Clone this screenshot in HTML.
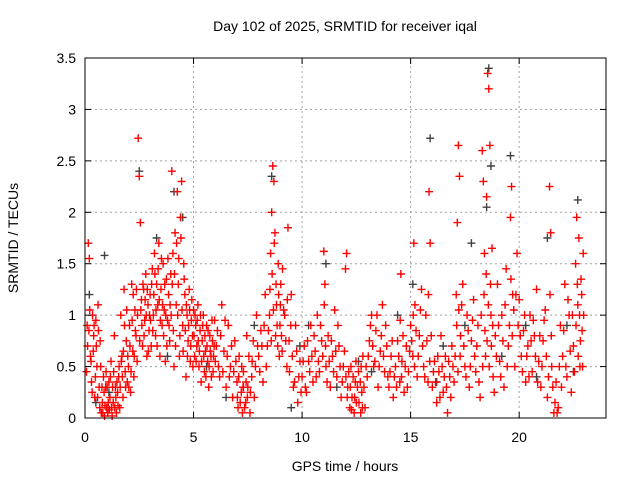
<!DOCTYPE html>
<html><head><meta charset="utf-8"><style>
html,body{margin:0;padding:0;background:#fff;}
svg{display:block;font-family:"Liberation Sans",sans-serif;}
</style></head><body>
<svg id="chart" width="640" height="480">
<rect width="640" height="480" fill="#fff"/>
<text x="345" y="31" font-size="14" text-anchor="middle">Day 102 of 2025, SRMTID for receiver iqal</text>
<g id="grid"></g><g id="pts"></g><g id="axes"></g>
<text x="345" y="471" font-size="14" text-anchor="middle">GPS time / hours</text>
<text transform="translate(18,238) rotate(-90)" font-size="14" text-anchor="middle">SRMTID / TECUs</text>
</svg>
<script>
const xTicks=[0,5,10,15,20];
const yTicks=[0,0.5,1,1.5,2,2.5,3,3.5];
const yTickLabels=["0","0.5","1","1.5","2","2.5","3","3.5"];
const redPoints=[
[0.1,0.9],[0.15,1.7],[0.2,1.55],[0.25,0.6],[0.3,0.35],[0.35,1.0],[0.4,0.8],[0.45,0.2],[0.5,0.95],[0.55,0.5],[0.6,1.1],[0.65,0.3],[0.7,0.75],[0.75,0.05],[0.8,0.15],[0.85,0.4],[0.9,0.02],[0.95,0.3],
[1.0,0.1],[1.05,0.05],[1.1,0.35],[1.15,0.2],[1.2,0.55],[1.25,0.02],[1.3,0.15],[1.35,0.8],[1.4,0.3],[1.45,0.05],[1.5,0.25],[1.55,0.4],[1.6,0.1],[1.65,1.0],[1.7,0.6],[1.75,0.2],[1.8,1.25],[1.85,0.45],[1.9,0.75],[1.95,0.35],
[2.0,0.5],[2.05,0.9],[2.1,0.25],[2.15,1.3],[2.2,0.65],[2.25,0.4],[2.3,1.05],[2.35,0.8],[2.4,0.55],[2.45,2.72],[2.5,2.35],[2.55,1.9],[2.6,1.15],[2.65,0.7],[2.7,1.25],[2.75,0.95],[2.8,1.4],[2.85,0.6],[2.9,1.1],[2.95,0.85],
[3.0,1.2],[3.05,0.7],[3.1,1.45],[3.15,1.0],[3.2,1.6],[3.25,0.8],[3.3,1.3],[3.35,1.1],[3.4,1.7],[3.45,0.6],[3.5,1.25],[3.55,0.9],[3.6,1.5],[3.65,1.05],[3.7,0.55],[3.75,1.35],[3.8,0.95],[3.85,1.2],[3.9,0.75],[3.95,1.4],
[4.0,2.4],[4.05,1.6],[4.1,0.5],[4.15,1.8],[4.2,1.1],[4.25,2.2],[4.3,1.3],[4.35,0.6],[4.4,1.95],[4.45,2.3],[4.5,0.9],[4.55,1.5],[4.6,1.2],[4.65,0.4],[4.7,1.0],[4.75,0.75],[4.8,1.25],[4.85,0.55],[4.9,0.95],[4.95,0.8],
[5.0,1.05],[5.05,0.6],[5.1,0.9],[5.15,0.7],[5.2,1.1],[5.25,0.5],[5.3,0.85],[5.35,0.35],[5.4,0.75],[5.45,1.0],[5.5,0.45],[5.55,0.65],[5.6,0.9],[5.65,0.55],[5.7,0.3],[5.75,0.8],[5.8,0.6],[5.85,0.95],[5.9,0.45],[5.95,0.7],
[6.0,0.55],[6.1,0.85],[6.2,0.4],[6.3,1.1],[6.4,0.65],[6.5,0.3],[6.6,0.9],[6.7,0.5],[6.8,0.2],[6.9,0.75],[7.0,0.35],[7.05,0.1],[7.1,0.6],[7.2,0.25],[7.25,0.05],[7.3,0.45],[7.4,0.15],[7.45,0.8],[7.5,0.3],[7.6,0.05],[7.7,0.55],[7.8,0.2],[7.9,1.0],
[8.0,0.6],[8.1,0.85],[8.2,0.35],[8.3,1.2],[8.4,0.7],[8.5,1.0],[8.55,1.6],[8.6,2.0],[8.65,2.45],[8.7,2.3],[8.75,1.8],[8.8,1.3],[8.85,0.9],[8.9,1.5],[8.95,0.6],[9.0,1.1],[9.05,0.8],[9.1,1.45],[9.2,1.0],[9.3,0.5],[9.35,1.85],[9.4,0.75],[9.5,1.2],[9.6,0.3],[9.7,0.9],[9.8,0.15],[9.9,0.55],
[10.0,0.4],[10.1,0.7],[10.2,0.25],[10.3,0.55],[10.4,0.9],[10.5,0.35],[10.6,0.65],[10.7,1.0],[10.8,0.45],[10.9,0.75],[11.0,1.62],[11.05,1.3],[11.1,0.5],[11.2,0.8],[11.3,0.3],[11.4,0.6],[11.5,1.05],[11.6,0.4],[11.7,0.7],[11.8,0.2],[11.9,0.5],
[12.0,1.45],[12.05,1.6],[12.1,0.3],[12.2,0.1],[12.25,0.5],[12.3,0.2],[12.4,0.05],[12.45,0.35],[12.5,0.15],[12.6,0.45],[12.7,0.05],[12.75,0.25],[12.8,0.6],[12.9,0.1],[13.0,0.4],[13.1,0.75],[13.2,1.0],[13.3,0.5],[13.4,0.85],[13.5,0.3],[13.6,0.65],[13.7,1.1],[13.8,0.45],[13.9,0.7],
[14.0,0.3],[14.1,0.6],[14.2,0.2],[14.3,0.5],[14.4,0.75],[14.5,0.35],[14.55,1.4],[14.6,0.55],[14.7,0.25],[14.8,0.7],[14.9,0.45],[15.0,0.9],[15.1,0.6],[15.15,1.7],[15.2,1.1],[15.3,0.4],[15.4,0.8],[15.5,1.25],[15.6,0.5],[15.7,1.0],[15.8,0.35],[15.85,2.2],[15.9,1.7],
[16.0,0.3],[16.1,0.55],[16.2,0.15],[16.3,0.45],[16.4,0.8],[16.5,0.25],[16.6,0.6],[16.7,0.05],[16.8,0.4],[16.9,0.7],[17.0,0.35],[17.1,1.2],[17.15,1.9],[17.2,2.65],[17.25,2.35],[17.3,0.8],[17.4,1.3],[17.5,0.5],[17.6,1.0],[17.7,0.3],[17.8,0.75],[17.9,1.15],
[18.0,0.45],[18.1,0.9],[18.2,0.2],[18.3,2.6],[18.35,2.3],[18.4,1.6],[18.45,0.6],[18.5,2.15],[18.55,3.35],[18.6,3.2],[18.65,2.65],[18.7,1.0],[18.75,1.65],[18.8,0.4],[18.9,0.8],[19.0,1.3],[19.1,0.55],[19.2,1.0],[19.3,0.3],[19.4,1.45],[19.5,0.7],[19.6,1.95],[19.65,2.25],[19.7,1.2],[19.8,0.5],[19.9,1.6],
[20.0,1.15],[20.1,0.6],[20.2,0.85],[20.3,0.35],[20.4,0.7],[20.5,1.0],[20.6,0.45],[20.7,0.8],[20.8,1.25],[20.9,0.55],[21.0,0.3],[21.1,0.75],[21.2,1.05],[21.3,0.2],[21.4,2.25],[21.45,1.8],[21.5,0.5],[21.6,0.05],[21.7,0.35],[21.8,0.1],[21.9,0.9],
[22.0,0.6],[22.1,1.3],[22.2,0.4],[22.3,1.0],[22.4,0.25],[22.5,0.7],[22.6,1.5],[22.65,1.95],[22.7,1.1],[22.75,1.75],[22.8,0.5],[22.85,1.35],[22.9,0.85],[22.95,1.6]
];
const redPointsExtra=[
[0.07,0.45],[0.12,0.7],[0.18,0.85],[0.22,1.05],[0.28,0.55],[0.33,0.25],[0.38,0.65],[0.42,0.9],[0.48,0.4],[0.52,0.7],[0.58,0.2],[0.62,0.85],[0.68,0.1],[0.72,0.5],[0.78,0.3],[0.82,0.05],[0.88,0.25],[0.92,0.12],[0.97,0.45],
[1.02,0.3],[1.07,0.15],[1.12,0.08],[1.17,0.4],[1.22,0.1],[1.27,0.3],[1.32,0.45],[1.37,0.1],[1.42,0.2],[1.47,0.35],[1.52,0.12],[1.57,0.5],[1.62,0.3],[1.67,0.55],[1.72,0.4],[1.77,0.65],[1.82,0.9],[1.87,0.3],[1.92,1.05],[1.97,0.6],
[2.02,0.3],[2.07,0.7],[2.12,0.45],[2.17,0.95],[2.22,1.2],[2.27,0.6],[2.32,0.85],[2.37,1.25],[2.42,1.0],[2.52,0.75],[2.57,1.05],[2.62,0.9],[2.67,1.3],[2.72,0.8],[2.77,1.15],[2.82,1.0],[2.87,1.25],[2.92,0.65],[2.97,1.0],
[3.02,0.95],[3.07,1.3],[3.12,0.85],[3.17,1.2],[3.22,1.4],[3.27,1.05],[3.32,0.7],[3.37,1.45],[3.42,1.15],[3.47,0.95],[3.52,1.55],[3.57,1.1],[3.62,0.8],[3.67,1.3],[3.72,1.0],[3.77,0.7],[3.82,1.55],[3.87,0.9],[3.92,1.1],[3.97,1.0],
[4.02,1.3],[4.07,0.85],[4.12,1.4],[4.17,0.7],[4.22,1.7],[4.27,1.0],[4.32,1.55],[4.37,0.8],[4.42,1.75],[4.47,1.05],[4.52,0.65],[4.57,1.35],[4.62,0.85],[4.67,1.1],[4.72,0.6],[4.77,0.9],[4.82,1.05],[4.87,0.7],[4.92,1.15],[4.97,0.5],
[5.02,0.8],[5.07,1.0],[5.12,0.55],[5.17,0.95],[5.22,0.75],[5.27,0.65],[5.32,1.0],[5.37,0.55],[5.42,0.9],[5.47,0.6],[5.52,0.8],[5.57,0.4],[5.62,0.7],[5.67,0.85],[5.72,0.5],[5.77,0.65],[5.82,0.4],[5.87,0.75],[5.92,0.6],[5.97,0.95],
[6.05,0.7],[6.15,0.5],[6.25,0.8],[6.35,0.45],[6.45,0.95],[6.55,0.6],[6.65,0.4],[6.75,0.7],[6.85,0.45],[6.95,0.55],[7.02,0.2],[7.08,0.4],[7.15,0.15],[7.22,0.5],[7.28,0.3],[7.35,0.1],[7.42,0.35],[7.48,0.2],[7.55,0.6],[7.62,0.25],[7.68,0.4],[7.75,0.75],[7.85,0.5],[7.95,0.7],
[8.05,0.45],[8.15,0.7],[8.25,0.9],[8.35,0.5],[8.45,0.85],[8.52,1.25],[8.58,0.75],[8.62,1.4],[8.68,1.05],[8.72,1.7],[8.78,0.8],[8.82,1.1],[8.88,0.7],[8.92,1.2],[8.98,0.9],[9.02,1.3],[9.08,0.65],[9.15,1.05],[9.25,0.75],[9.32,1.15],[9.42,0.45],[9.48,0.9],[9.55,0.6],[9.65,0.35],[9.75,0.65],[9.85,0.4],[9.95,0.25],
[10.05,0.55],[10.15,0.3],[10.25,0.75],[10.35,0.45],[10.45,0.6],[10.55,0.8],[10.65,0.4],[10.75,0.55],[10.85,0.9],[10.95,0.6],[11.02,1.1],[11.08,0.7],[11.15,0.35],[11.25,0.55],[11.35,0.75],[11.45,0.45],[11.55,0.65],[11.65,0.9],[11.75,0.5],[11.85,0.35],[11.95,0.65],
[12.02,0.4],[12.08,0.2],[12.15,0.45],[12.22,0.3],[12.28,0.08],[12.35,0.4],[12.42,0.2],[12.48,0.55],[12.55,0.3],[12.62,0.15],[12.68,0.35],[12.72,0.5],[12.78,0.1],[12.85,0.3],[12.95,0.5],[13.05,0.6],[13.15,0.9],[13.25,0.7],[13.35,0.55],[13.45,1.0],[13.55,0.5],[13.65,0.8],[13.75,0.6],[13.85,0.9],[13.95,0.4],
[14.05,0.45],[14.15,0.75],[14.25,0.4],[14.35,0.3],[14.45,0.6],[14.52,0.95],[14.58,0.4],[14.65,0.8],[14.75,0.5],[14.85,0.3],[14.95,0.65],[15.05,0.75],[15.12,1.0],[15.18,0.5],[15.25,0.85],[15.35,0.6],[15.45,1.05],[15.55,0.7],[15.65,0.4],[15.75,0.75],[15.82,1.2],[15.88,0.55],[15.95,0.8],
[16.05,0.45],[16.15,0.35],[16.25,0.6],[16.35,0.2],[16.45,0.5],[16.55,0.4],[16.65,0.3],[16.75,0.55],[16.85,0.2],[16.95,0.5],[17.05,0.6],[17.12,0.9],[17.18,0.45],[17.22,1.05],[17.28,0.6],[17.35,1.1],[17.45,0.7],[17.55,0.4],[17.65,0.85],[17.75,0.5],[17.85,0.95],[17.95,0.6],
[18.05,0.7],[18.15,0.35],[18.25,1.0],[18.32,0.5],[18.38,1.2],[18.42,0.85],[18.48,1.4],[18.52,0.75],[18.58,1.1],[18.62,0.5],[18.68,1.3],[18.72,0.7],[18.78,0.9],[18.85,0.25],[18.95,0.6],[19.05,0.9],[19.15,0.4],[19.25,0.75],[19.35,1.1],[19.45,0.5],[19.55,0.9],[19.62,1.35],[19.68,0.8],[19.75,1.05],[19.85,1.2],[19.95,0.9],
[20.05,0.8],[20.15,0.45],[20.25,1.0],[20.35,0.6],[20.45,0.4],[20.55,0.75],[20.65,0.95],[20.75,0.6],[20.85,0.35],[20.95,0.8],[21.05,0.5],[21.15,0.95],[21.25,0.6],[21.35,0.4],[21.42,1.2],[21.48,0.8],[21.55,0.3],[21.65,0.15],[21.75,0.05],[21.85,0.5],[21.95,0.3],
[22.05,0.85],[22.15,0.5],[22.25,1.15],[22.35,0.65],[22.45,1.0],[22.55,0.45],[22.62,0.9],[22.68,1.3],[22.72,0.6],[22.78,1.0],[22.82,0.75],[22.88,1.2],[22.92,0.5],[22.97,1.0]
];
const greyPoints=[
[0.2,1.2],[0.5,0.15],[0.9,1.58],[2.5,2.4],[3.3,1.75],[4.1,2.2],[4.5,1.95],[6.5,0.2],[7.8,0.9],[8.6,2.35],[9.5,0.1],[10.3,0.9],[11.1,1.5],[12.6,0.55],[14.4,1.0],[15.1,1.3],[15.9,2.72],[16.5,0.7],[17.8,1.7],[18.5,2.05],[18.6,3.4],[18.7,2.45],[19.6,2.55],[20.3,0.9],[21.3,1.75],[22.5,0.45],[22.7,2.12],
[1.1,0.25],[3.8,0.6],[5.6,0.5],[7.3,0.3],[9.9,0.7],[11.6,0.3],[13.2,0.45],[16.2,0.35],[17.5,0.9],[19.2,0.6],[20.8,0.4],[22.2,0.9]
];
const X0=85,X1=606,Y0=418,Y1=58,XMAX=24,YMAX=3.5;
const xs=h=>X0+(X1-X0)*h/XMAX;
const ys=v=>Y0-(Y0-Y1)*v/YMAX;
const NS="http://www.w3.org/2000/svg";
function mk(tag,attrs,parent){const e=document.createElementNS(NS,tag);for(const k in attrs)e.setAttribute(k,attrs[k]);parent.appendChild(e);return e;}
const grid=document.getElementById('grid'),axes=document.getElementById('axes'),pts=document.getElementById('pts');
xTicks.forEach(t=>{const x=xs(t);
 if(t>0){const g=mk('line',{x1:x,y1:Y0,x2:x,y2:Y1,stroke:'#a0a0a0','stroke-dasharray':'2,3'},grid);
 
 }
 mk('line',{x1:x,y1:Y0,x2:x,y2:Y0-6,stroke:'#000'},axes);
 mk('line',{x1:x,y1:Y1,x2:x,y2:Y1+6,stroke:'#000'},axes);
 const l=mk('text',{x:x,y:Y0+24,'font-size':14,'text-anchor':'middle'},axes);l.textContent=t;
 
 
});
yTicks.forEach((t,i)=>{const y=ys(t);
 if(t>0&&t<YMAX){const g=mk('line',{x1:X0,y1:y,x2:X1,y2:y,stroke:'#a0a0a0','stroke-dasharray':'2,3'},grid);
 
 }
 mk('line',{x1:X0,y1:y,x2:X0+6,y2:y,stroke:'#000'},axes);
 mk('line',{x1:X1,y1:y,x2:X1-6,y2:y,stroke:'#000'},axes);
 const l=mk('text',{x:X0-9,y:y+5,'font-size':14,'text-anchor':'end'},axes);l.textContent=yTickLabels[i];
 
 
});
const frame=mk('rect',{x:X0,y:Y1,width:X1-X0,height:Y0-Y1,fill:'none',stroke:'#000'},axes);


function plus(h,v,color,name){const x=xs(h),y=ys(v);
 const p=mk('path',{d:`M${x-4},${y}H${x+4}M${x},${y-4}V${y+4}`,stroke:color,'stroke-width':1.4,fill:'none'},pts);
 
 }
greyPoints.forEach(p=>plus(p[0],p[1],'#404040','grey-point'));
redPoints.forEach(p=>plus(p[0],p[1],'#ff0000','red-point'));
redPointsExtra.forEach(p=>plus(p[0],p[1],'#ff0000','red-point'));
</script>
</body></html>
